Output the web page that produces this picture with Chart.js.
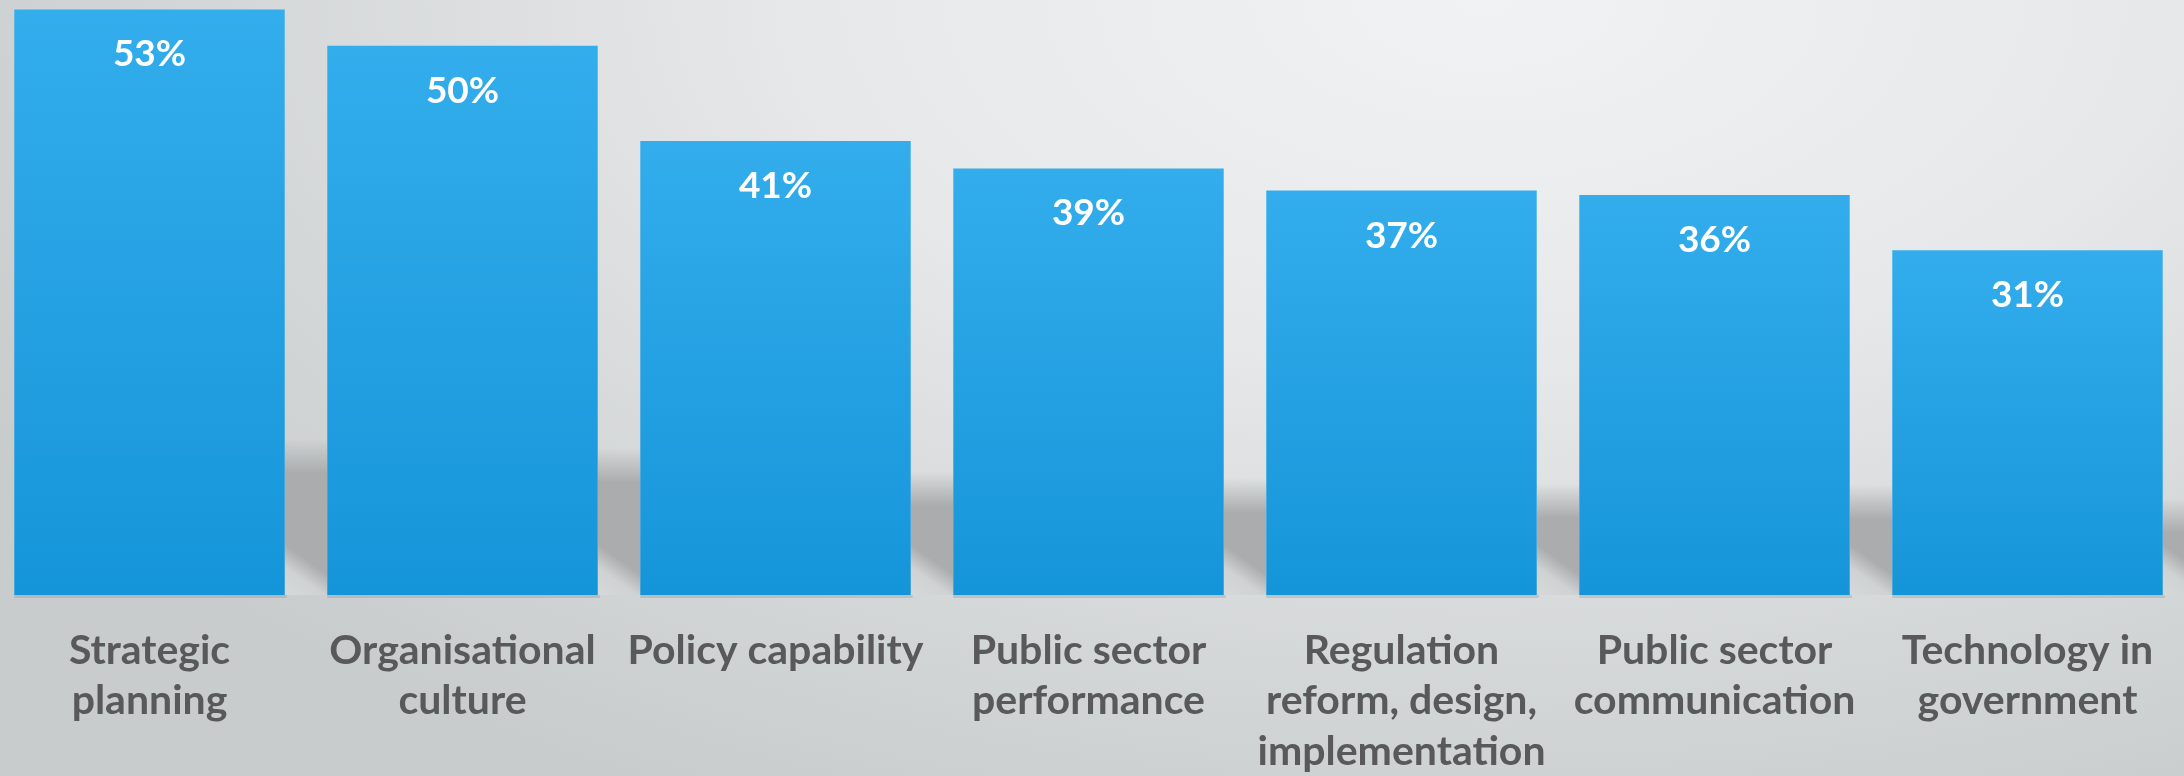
<!DOCTYPE html>
<html>
<head>
<meta charset="utf-8">
<script src="https://cdn.jsdelivr.net/npm/chart.js@4.4.1/dist/chart.umd.min.js"></script>
<style>
  html, body { margin: 0; padding: 0; width: 2184px; height: 776px; overflow: hidden; }
  body {
    background: radial-gradient(ellipse 1700px 900px at 68% 0%, #f1f2f3 0%, #e6e8e9 40%, #d4d7d8 75%, #c8cccd 100%);
  }
  #wrap { position: absolute; left: -7px; top: 0; width: 2191px; height: 776px; }
</style>
</head>
<body>
<div id="wrap"><canvas id="c"></canvas></div>
<script>
const categories = [
  ["Strategic", "planning"],
  ["Organisational", "culture"],
  ["Policy capability"],
  ["Public sector", "performance"],
  ["Regulation", "reform, design,", "implementation"],
  ["Public sector", "communication"],
  ["Technology in", "government"]
];
const values = [53, 49.7, 41.1, 38.6, 36.6, 36.2, 31.2];
const valueLabels = ["53%", "50%", "41%", "39%", "37%", "36%", "31%"];

const FONT = "Lato, 'Open Sans', sans-serif";

const shadowPlugin = {
  id: 'barShadows',
  beforeDatasetsDraw(chart) {
    const ctx = chart.ctx;
    const meta = chart.getDatasetMeta(0);
    const base = chart.scales.y.getPixelForValue(0);
    const bars = meta.data;
    ctx.save();
    bars.forEach((bar, i) => {
      const half = bar.width / 2;
      const xr = bar.x + half;
      const next = bars[i + 1];
      const xEnd = next ? next.x - next.width / 2 : chart.width;
      const gap = xEnd - xr;
      const h = 0.245 * (base - bar.y);
      const top = base - h;
      const g = ctx.createLinearGradient(0, top - 12, 0, top + 22);
      g.addColorStop(0, 'rgba(170,172,173,0)');
      g.addColorStop(1, 'rgba(170,172,173,1)');
      ctx.fillStyle = g;
      ctx.fillRect(xr, top - 12, gap, base - top + 12);
      ctx.save();
      ctx.beginPath();
      ctx.rect(xr, top, gap, base - top);
      ctx.clip();
      const dg = ctx.createLinearGradient(xr, base, xr + 24, base - 34);
      dg.addColorStop(0, 'rgba(214,217,218,1)');
      dg.addColorStop(0.55, 'rgba(214,217,218,0.85)');
      dg.addColorStop(1, 'rgba(214,217,218,0)');
      ctx.fillStyle = dg;
      ctx.fillRect(xr, base - 60, gap, 60);
      ctx.restore();
      ctx.fillStyle = 'rgba(120,125,128,0.25)';
      ctx.fillRect(bar.x - half, base, bar.width + 2, 3);
    });
    ctx.restore();
  }
};

const valueLabelPlugin = {
  id: 'valueLabels',
  afterDatasetsDraw(chart) {
    const ctx = chart.ctx;
    const meta = chart.getDatasetMeta(0);
    ctx.save();
    ctx.fillStyle = '#ffffff';
    ctx.font = "bold 37px " + FONT;
    ctx.textAlign = 'center';
    ctx.textBaseline = 'middle';
    meta.data.forEach((bar, i) => {
      ctx.fillText(valueLabels[i], bar.x, bar.y + 45);
    });
    ctx.restore();
  }
};

new Chart(document.getElementById('c'), {
  type: 'bar',
  data: {
    labels: categories,
    datasets: [{
      data: values,
      backgroundColor: (context) => {
        const chart = context.chart;
        const y = chart.scales && chart.scales.y;
        if (!y || !chart.chartArea || context.parsed === undefined) return '#27a3e5';
        const top = y.getPixelForValue(context.parsed.y);
        const bottom = y.getPixelForValue(0);
        const g = chart.ctx.createLinearGradient(0, top, 0, bottom);
        g.addColorStop(0, '#33adec');
        g.addColorStop(1, '#1595d9');
        return g;
      },
      borderWidth: 0,
      barPercentage: 0.864,
      categoryPercentage: 1.0
    }]
  },
  options: {
    responsive: true,
    maintainAspectRatio: false,
    animation: false,
    layout: { padding: 0 },
    plugins: {
      legend: { display: false },
      tooltip: { enabled: false },
      title: { display: false }
    },
    scales: {
      x: {
        grid: { display: false, drawTicks: false },
        border: { display: false },
        afterFit: (scale) => { scale.height = 181; },
        ticks: {
          color: '#595959',
          font: { family: FONT, size: 41, weight: 'bold', lineHeight: 1.24 },
          padding: 30,
          autoSkip: false,
          maxRotation: 0,
          minRotation: 0
        }
      },
      y: {
        display: false,
        min: 0,
        max: 53.85
      }
    }
  },
  plugins: [shadowPlugin, valueLabelPlugin]
});
</script>
</body>
</html>
